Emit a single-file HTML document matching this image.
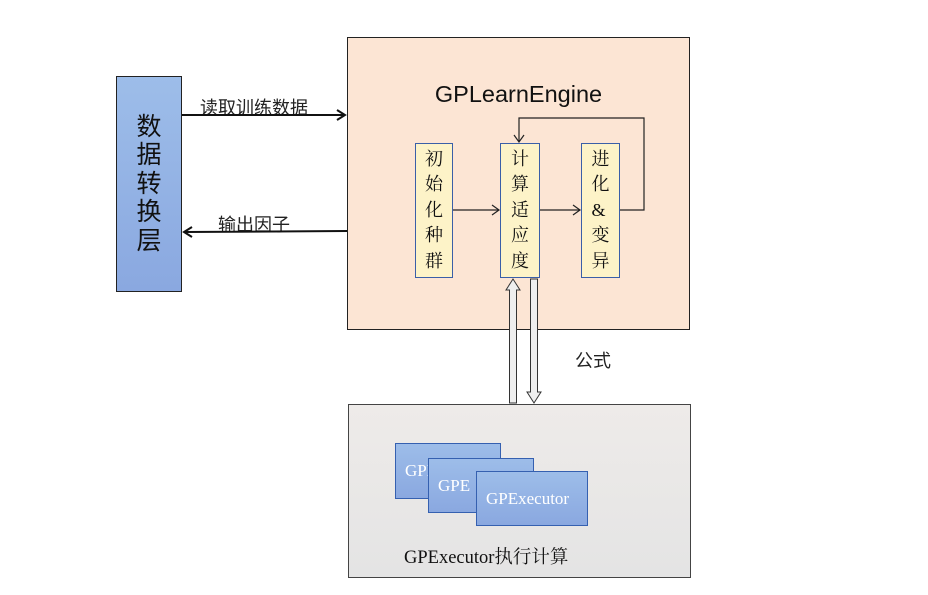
<!DOCTYPE html>
<html><head><meta charset="utf-8"><style>
body{margin:0;width:928px;height:595px;background:#fff;position:relative;overflow:hidden;font-family:"Liberation Sans","Noto Sans CJK SC",sans-serif}
.a{position:absolute;box-sizing:border-box}
.v{display:flex;flex-direction:column;align-items:center;justify-content:center;font-family:"Liberation Serif","Noto Serif CJK SC",serif;font-size:18px;line-height:25.5px;color:#111}
.ex{background:linear-gradient(#9dbde9,#8aa8e0);border:1.5px solid #3560b0;color:#fff;font-family:"Liberation Serif",serif;font-size:17px;display:flex;align-items:center;padding-left:9px}
</style></head><body>
<div class="a" style="left:116px;top:76px;width:66px;height:216px;background:linear-gradient(#9dbde9,#8aa8e0);border:1px solid #222;display:flex;flex-direction:column;align-items:center;justify-content:center;font-size:25px;line-height:28.5px;color:#111">数<br>据<br>转<br>换<br>层</div>
<div class="a" style="left:347px;top:37px;width:343px;height:293px;background:#fce5d4;border:1px solid #222"></div>
<div class="a" style="left:347px;top:81px;width:343px;text-align:center;font-size:23.5px;color:#111">GPLearnEngine</div>
<div class="a v" style="left:415px;top:143px;width:38px;height:135px;background:#fdf3c8;border:1.5px solid #3a5fa8">初<br>始<br>化<br>种<br>群</div>
<div class="a v" style="left:500px;top:143px;width:40px;height:135px;background:#fdf3c8;border:1.5px solid #3a5fa8">计<br>算<br>适<br>应<br>度</div>
<div class="a v" style="left:581px;top:143px;width:39px;height:135px;background:#fdf3c8;border:1.5px solid #3a5fa8">进<br>化<br>&amp;<br>变<br>异</div>
<div class="a" style="left:348px;top:404px;width:343px;height:174px;background:linear-gradient(#eeebe9,#e4e4e4);border:1px solid #444"></div>
<div class="a ex" style="left:395px;top:443px;width:106px;height:56px">GPE</div>
<div class="a ex" style="left:428px;top:458px;width:106px;height:55px">GPE</div>
<div class="a ex" style="left:476px;top:471px;width:112px;height:55px">GPExecutor</div>
<div class="a" style="left:404px;top:543px;font-family:'Liberation Serif','Noto Serif CJK SC',serif;font-size:18.5px;color:#111">GPExecutor执行计算</div>
<div class="a" style="left:575px;top:347px;font-size:18px;color:#222">公式</div>
<div class="a" style="left:200px;top:94px;font-size:18px;color:#222">读取训练数据</div>
<div class="a" style="left:218px;top:211px;font-size:18px;color:#222">输出因子</div>
<svg class="a" style="left:0;top:0" width="928" height="595">
<g stroke="#111" fill="none" stroke-width="2">
<line x1="182" y1="115" x2="345" y2="115"/><polyline points="337,110 345,115 337,120"/>
<line x1="347" y1="231" x2="184" y2="232"/><polyline points="192,227 184,232 192,237"/>
</g>
<g stroke="#222" fill="none" stroke-width="1.2">
<line x1="453" y1="210" x2="499" y2="210"/><polyline points="492,205 499,210 492,215"/>
<line x1="540" y1="210" x2="580" y2="210"/><polyline points="573,205 580,210 573,215"/>
<polyline points="620,210 644,210 644,118 519,118 519,142"/><polyline points="514,135 519,142 524,135"/>
</g>
<g stroke="#333" fill="#eee" stroke-width="1">
<polygon points="509.5,403 516.5,403 516.5,290 520,290 513,279 506,290 509.5,290"/>
<polygon points="530.5,279 537.5,279 537.5,392 541,392 534,403 527,392 530.5,392"/>
</g>
</svg>
</body></html>
